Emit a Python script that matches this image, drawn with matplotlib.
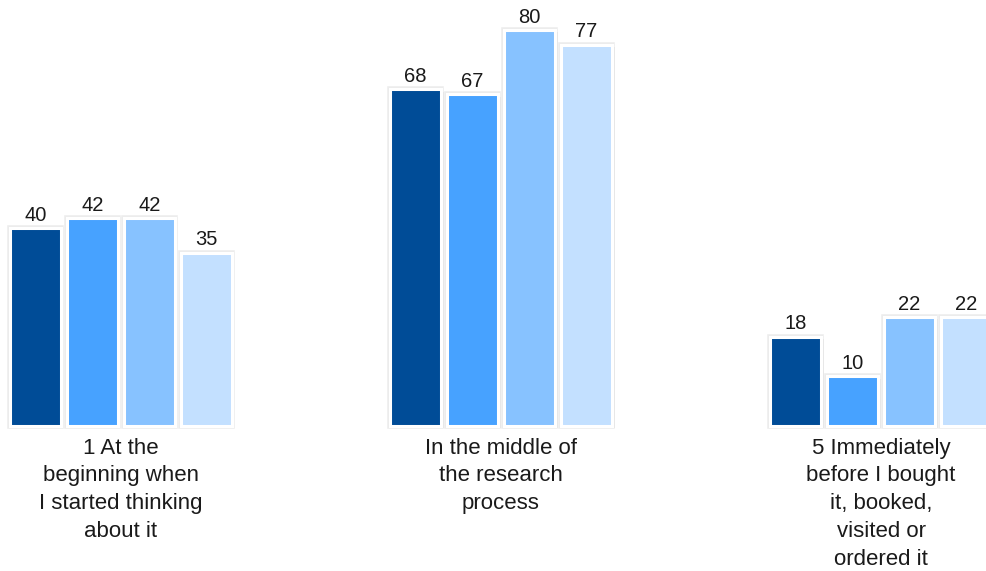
import matplotlib
matplotlib.use("Agg")
import matplotlib.pyplot as plt
import matplotlib.patheffects as pe
import numpy as np

plt.rcParams['font.family'] = ['Liberation Sans', 'DejaVu Sans']

categories = [
    "1 At the\nbeginning when\nI started thinking\nabout it",
    "In the middle of\nthe research\nprocess",
    "5 Immediately\nbefore I bought\nit, booked,\nvisited or\nordered it",
]
series_a = [40, 68, 18]
series_b = [42, 67, 10]
series_c = [42, 80, 22]
series_d = [35, 77, 22]
series = [series_a, series_b, series_c, series_d]
colors = ["#004C97", "#47A2FF", "#87C2FF", "#C3E0FF"]

fig = plt.figure(figsize=(9.86, 5.71), dpi=100)
ax = fig.add_axes([0, 0, 1, 1])
ax.set_xlim(-0.318, 2.276)
ax.set_ylim(-29.3, 86.06)
ax.axis("off")

x = np.arange(len(categories))
pitch = 0.15
width = 0.136
effects = [pe.SimplePatchShadow(offset=(1.6, -1.6), shadow_rgbFace="#c0c0c0", alpha=0.65),
           pe.Stroke(linewidth=4.0, foreground="#ececec"),
           pe.Normal()]

for i, (vals, col) in enumerate(zip(series, colors)):
    pos = x + (i - 1.5) * pitch
    bars = ax.bar(pos, vals, width=width, color=col, edgecolor="white",
                  linewidth=2.2, zorder=2)
    for b, v in zip(bars, vals):
        b.set_path_effects(effects)
        ax.annotate(str(v), (b.get_x() + b.get_width() / 2, v),
                    xytext=(0, 2.5), textcoords="offset points",
                    ha="center", va="bottom", fontsize=14.5, color="#1a1a1a")

for xi, lab in zip(x, categories):
    ax.annotate(lab, (xi, 0), xytext=(0, -8.5), textcoords="offset points",
                ha="center", va="top", fontsize=16, color="#1a1a1a",
                linespacing=1.42)

fig.savefig("out.png", dpi=100)
